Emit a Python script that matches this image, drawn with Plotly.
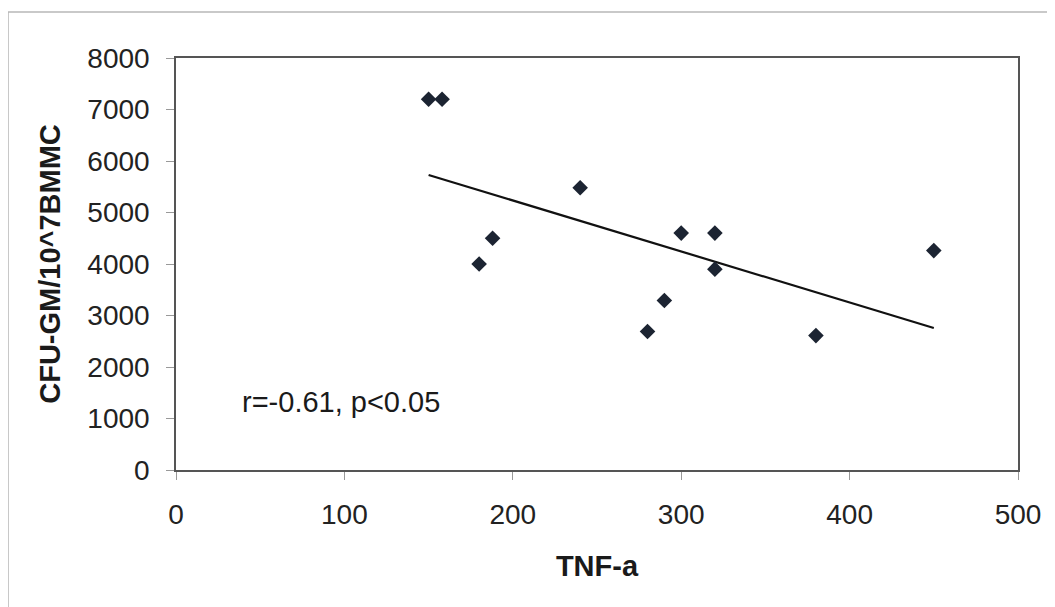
import numpy as np
import plotly.graph_objects as go

# Data
tnf_a = [150, 158, 180, 188, 240, 280, 290, 300, 320, 320, 380, 450]
cfu_gm = [7200, 7200, 4000, 4500, 5480, 2690, 3290, 4600, 4600, 3900, 2610, 4260]

x_ticks = [0, 100, 200, 300, 400, 500]
y_ticks = [0, 1000, 2000, 3000, 4000, 5000, 6000, 7000, 8000]
annotation_text = "r=-0.61, p<0.05"

# Linear trendline (least squares) over the data range
slope, intercept = np.polyfit(tnf_a, cfu_gm, 1)
trend_x = [min(tnf_a), max(tnf_a)]
trend_y = [slope * v + intercept for v in trend_x]

FONT = "Liberation Sans, Arial, sans-serif"

fig = go.Figure()
fig.add_trace(go.Scatter(
    x=trend_x, y=trend_y, mode="lines",
    line=dict(color="#111111", width=2.2),
    showlegend=False, hoverinfo="skip",
))
fig.add_trace(go.Scatter(
    x=tnf_a, y=cfu_gm, mode="markers",
    marker=dict(symbol="diamond", size=12, color="#1c2432",
                line=dict(width=0)),
    showlegend=False,
))

fig.add_annotation(
    x=98, y=1320, xref="x", yref="y", text=annotation_text,
    showarrow=False, font=dict(family=FONT, size=29, color="#1a1a1a"),
)

# Outer chart frame (partly cut off by the image edges)
fig.add_shape(type="rect", xref="paper", yref="paper",
              x0=-0.1995, y0=-0.45, x1=1.2, y1=1.1117,
              line=dict(color="#b8b8b8", width=1.5), layer="below")

fig.update_layout(
    width=1047, height=599,
    margin=dict(l=168, r=37, t=50, b=137),
    paper_bgcolor="white", plot_bgcolor="white",
    font=dict(family=FONT, color="#1a1a1a"),
)
fig.update_xaxes(
    range=[0, 500], tickvals=x_ticks, ticktext=[str(v) for v in x_ticks],
    showgrid=False, zeroline=False,
    showline=True, linecolor="#555555", linewidth=1.5, mirror=True,
    ticks="outside", ticklen=8, tickcolor="#999999", tickwidth=1,
    tickfont=dict(family=FONT, size=28, color="#222222"),
    ticklabelstandoff=11,
    title=dict(text="<b>TNF-a</b>", font=dict(family=FONT, size=29, color="#1a1a1a"),
               standoff=26),
)
fig.update_yaxes(
    range=[0, 8000], tickvals=y_ticks, ticktext=[str(v) for v in y_ticks],
    showgrid=False, zeroline=False,
    showline=True, linecolor="#555555", linewidth=1.5, mirror=True,
    ticks="outside", ticklen=8, tickcolor="#999999", tickwidth=1,
    tickfont=dict(family=FONT, size=28, color="#222222"),
    ticklabelstandoff=11,
    title=dict(text="<b>CFU-GM/10^7BMMC</b>", font=dict(family=FONT, size=29, color="#1a1a1a"),
               standoff=18),
)

fig.write_html("out.html")
